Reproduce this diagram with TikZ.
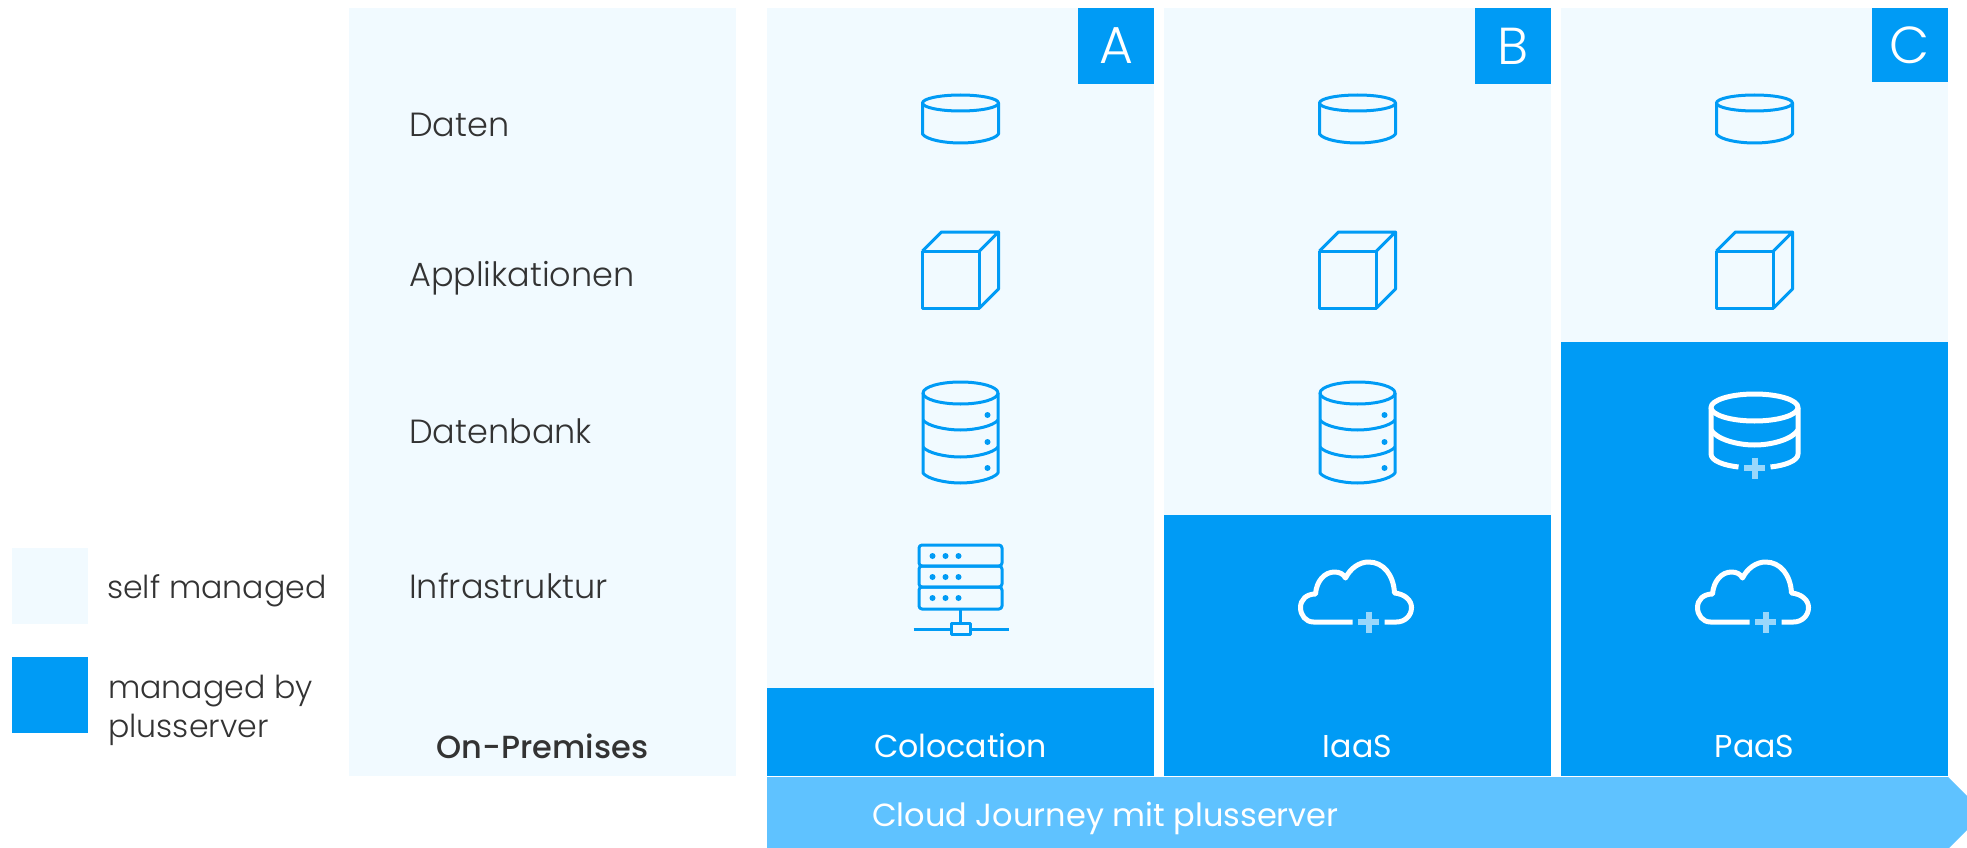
\documentclass[tikz,border=0pt]{standalone}
\usepackage{fontspec}
\setmainfont{Poppins}
\newfontfamily\thinfont{Poppins Light}
\newfontfamily\midfont{Poppins Medium}
\usetikzlibrary{positioning}
\definecolor{brand}{HTML}{009BF5}
\definecolor{pale}{HTML}{F1FAFF}
\definecolor{journey}{HTML}{5FC2FF}
\definecolor{plus}{HTML}{99D7FB}
\definecolor{ink}{HTML}{333333}
\tikzset {
  panel/.style = {
    fill = pale,
    inner sep = 0,
    outer sep = 0,
    minimum width = 387pt,
    minimum height = 768pt,
    anchor = north west
  },
  % part run by the provider
  managed/.style = {
    fill = brand,
    inner sep = 0,
    outer sep = 0,
    minimum width = 387pt,
    anchor = south
  },
  badge/.style = {
    fill = brand,
    text = white,
    inner sep = 0,
    outer sep = 0,
    minimum size = 76pt,
    anchor = north east,
    font = \thinfont\fontsize{52}{52}\selectfont
  },
  swatch/.style = {
    inner sep = 0,
    minimum size = 76pt,
    anchor = north west
  },
  row label/.style = {
    text = ink,
    inner sep = 0,
    anchor = west,
    font = \thinfont\fontsize{33.5}{33.5}\selectfont
  },
  legend label/.style = {
    text = ink,
    inner sep = 0,
    anchor = west,
    align = left,
    font = \thinfont\fontsize{31.6}{38.5}\selectfont
  },
  foot label/.style = {
    text = white,
    inner sep = 0,
    font = \fontsize{31.6}{32}\selectfont
  },
  blue line/.style = {
    draw = brand,
    line width = 3pt,
    line join = round
  },
  white line/.style = {
    draw = white,
    line width = 5pt,
    line join = round
  }
}
\tikzset {
  % single drum
  data icon/.pic = {
    \draw[blue line] (0,-20) ellipse [x radius = 38, y radius = 8];
    \draw[blue line] (-38,-20) -- (-38,11)
    .. controls (-34,17) and (-15,20) .. (0,20)
    .. controls (15,20) and (34,17) .. (38,11) -- (38,-20);
  },
  cube icon/.pic = {
    \draw[blue line] (-38,-19) rectangle (19,38);
    \draw[blue line] (-38,-19) -- (-19,-38) -- (38,-38) -- (19,-19);
    \draw[blue line] (38,-38) -- (38,19) -- (19,38);
  },
  base icon/.pic = {
    \draw[blue line] (0,-37) ellipse [x radius = 37.5, y radius = 11];
    \draw[blue line] (-37.5,-37) -- (-37.5,43)
    .. controls (-33,49) and (-15,53) .. (0,53)
    .. controls (15,53) and (33,49) .. (37.5,43) -- (37.5,-37);
    \draw[blue line] (-37.5,-10)
    .. controls (-33,-4) and (-15,0) .. (0,0)
    .. controls (15,0) and (33,-4) .. (37.5,-10);
    \draw[blue line] (-37.5,17)
    .. controls (-33,23) and (-15,27) .. (0,27)
    .. controls (15,27) and (33,23) .. (37.5,17);
    \fill[brand] (27,-15) circle (3);
    \fill[brand] (27,12) circle (3);
    \fill[brand] (27,38) circle (3);
  },
  server icon/.pic = {
    \draw[blue line, rounded corners = 3pt] (-41.5,-45) rectangle (41.5,-24);
    \draw[blue line, rounded corners = 3pt] (-41.5,-24) rectangle (41.5,-3);
    \draw[blue line, rounded corners = 3pt] (-41.5,-3) rectangle (41.5,19);
    \foreach \y in {-34,-13,8} {
      \fill[brand] (-28,\y) circle (3);
      \fill[brand] (-15,\y) circle (3);
      \fill[brand] (-2,\y) circle (3);
    }
    \draw[blue line] (0,19) -- (0,33);
    \draw[blue line] (-47,39) -- (-9,39);
    \draw[blue line] (9,39) -- (48,39);
    \draw[blue line] (-9.5,33) rectangle (9.5,44);
  },
  base plus icon/.pic = {
    \draw[white line] (0,-22.5) ellipse [x radius = 43.5, y radius = 13.5];
    \draw[white line] (-43.5,-22.5) -- (-43.5,24)
    .. controls (-43.5,31) and (-30,35.5) .. (-16,37);
    \draw[white line] (43.5,-22.5) -- (43.5,24)
    .. controls (43.5,31) and (30,35.5) .. (16,37);
    \draw[white line] (-43.5,0)
    .. controls (-38,9) and (-18,15) .. (0,15)
    .. controls (18,15) and (38,9) .. (43.5,0);
    \draw[plus, line width = 6pt] (-10.5,38) -- (10.5,38);
    \draw[plus, line width = 6pt] (0,27.5) -- (0,48.5);
  },
  cloud icon/.pic = {
    \draw[white line] (-5,30) -- (-44,30)
    .. controls (-52,30) and (-57,23) .. (-57,15.5)
    .. controls (-57,7.5) and (-51,2) .. (-42,2)
    .. controls (-41,-11) and (-33,-20) .. (-23,-20)
    .. controls (-18,-20) and (-14,-18) .. (-12,-14)
    .. controls (-7,-24) and (2,-30) .. (11,-30)
    .. controls (26,-30) and (36,-17) .. (37,1)
    .. controls (47,2) and (54,8) .. (54,15.5)
    .. controls (54,24) and (47,30) .. (39,30)
    -- (27,30);
    \draw[plus, line width = 6pt] (0.5,30) -- (21.5,30);
    \draw[plus, line width = 6pt] (11,19.5) -- (11,40.5);
  }
}

\begin{document}
\begin{tikzpicture}[x = 1pt, y = -1pt]
    \useasboundingbox (0,0) rectangle (1967,848);
    \fill[white] (0,0) rectangle (1967,848);

    % legend
    \node[swatch, fill = pale] (self-swatch) at (12,548) {};
    \node[swatch, fill = brand] (managed-swatch) at (12,657) {};
    \node[legend label] (self-label) at (107,590.5) {self managed};
    \node[legend label] (managed-label) at (108,710.5) {managed by\\plusserver};

    \node[panel] (on-prem) at (349,8) {};
    \node[panel] (col-a) [right = 31pt of on-prem.north east, anchor = north west] {};
    \node[panel] (col-b) [right = 10pt of col-a.north east, anchor = north west] {};
    \node[panel] (col-c) [right = 10pt of col-b.north east, anchor = north west] {};

    \node[managed, minimum height = 88pt] (managed-a) at (col-a.south) {};
    \node[managed, minimum height = 261pt] (managed-b) at (col-b.south) {};
    \node[managed, minimum height = 434pt] (managed-c) at (col-c.south) {};

    \node[badge] (badge-a) at (col-a.north east) {A};
    \node[badge] (badge-b) at (col-b.north east) {B};
    \node[badge, minimum height = 74pt] (badge-c) at (col-c.north east) {C};

    \coordinate (row-data) at (0,123);
    \coordinate (row-apps) at (0,270);
    \coordinate (row-base) at (0,430);
    \coordinate (row-infra) at (0,590);
    \coordinate (row-cloud) at (0,592);

    \node[row label] (data-label) at (409,125) {Daten};
    \node[row label] (apps-label) at (409,278.5) {Applikationen};
    \node[row label] (base-label) at (409,431) {Datenbank};
    \node[row label] (infra-label) at (409,586) {Infrastruktur};
    \node[foot label, text = ink, font = \midfont\fontsize{32}{32}\selectfont] (prem-label) at (542.5,746) {On-Premises};

    \node[foot label] (colo-label) at (col-a |- prem-label) {Colocation};
    \node[foot label] (iaas-label) at (col-b |- prem-label) {IaaS};
    \node[foot label] (paas-label) at (col-c |- prem-label) {PaaS};

    \pic at (col-a |- row-data) {data icon};
    \pic at (col-a |- row-apps) {cube icon};
    \pic at (col-a |- row-base) {base icon};
    \pic at (col-a |- row-infra) {server icon};

    \pic at (col-b |- row-data) {data icon};
    \pic at (col-b |- row-apps) {cube icon};
    \pic at (col-b |- row-base) {base icon};
    \pic at (col-b |- row-cloud) {cloud icon};

    \pic at (col-c |- row-data) {data icon};
    \pic at (col-c |- row-apps) {cube icon};
    \pic at (col-c |- row-base) {base plus icon};
    \pic at (col-c |- row-cloud) {cloud icon};

    % arrow is cut off by the page edge
    \fill[journey] (767,777) -- (1948,777) -- (1967,796) -- (1967,830)
    -- (1949,848) -- (767,848) -- cycle;
    \node[foot label, anchor = west, font = \fontsize{32}{32}\selectfont] (journey-label) at (872,818.5) {Cloud Journey mit plusserver};
\end{tikzpicture}
\end{document}
